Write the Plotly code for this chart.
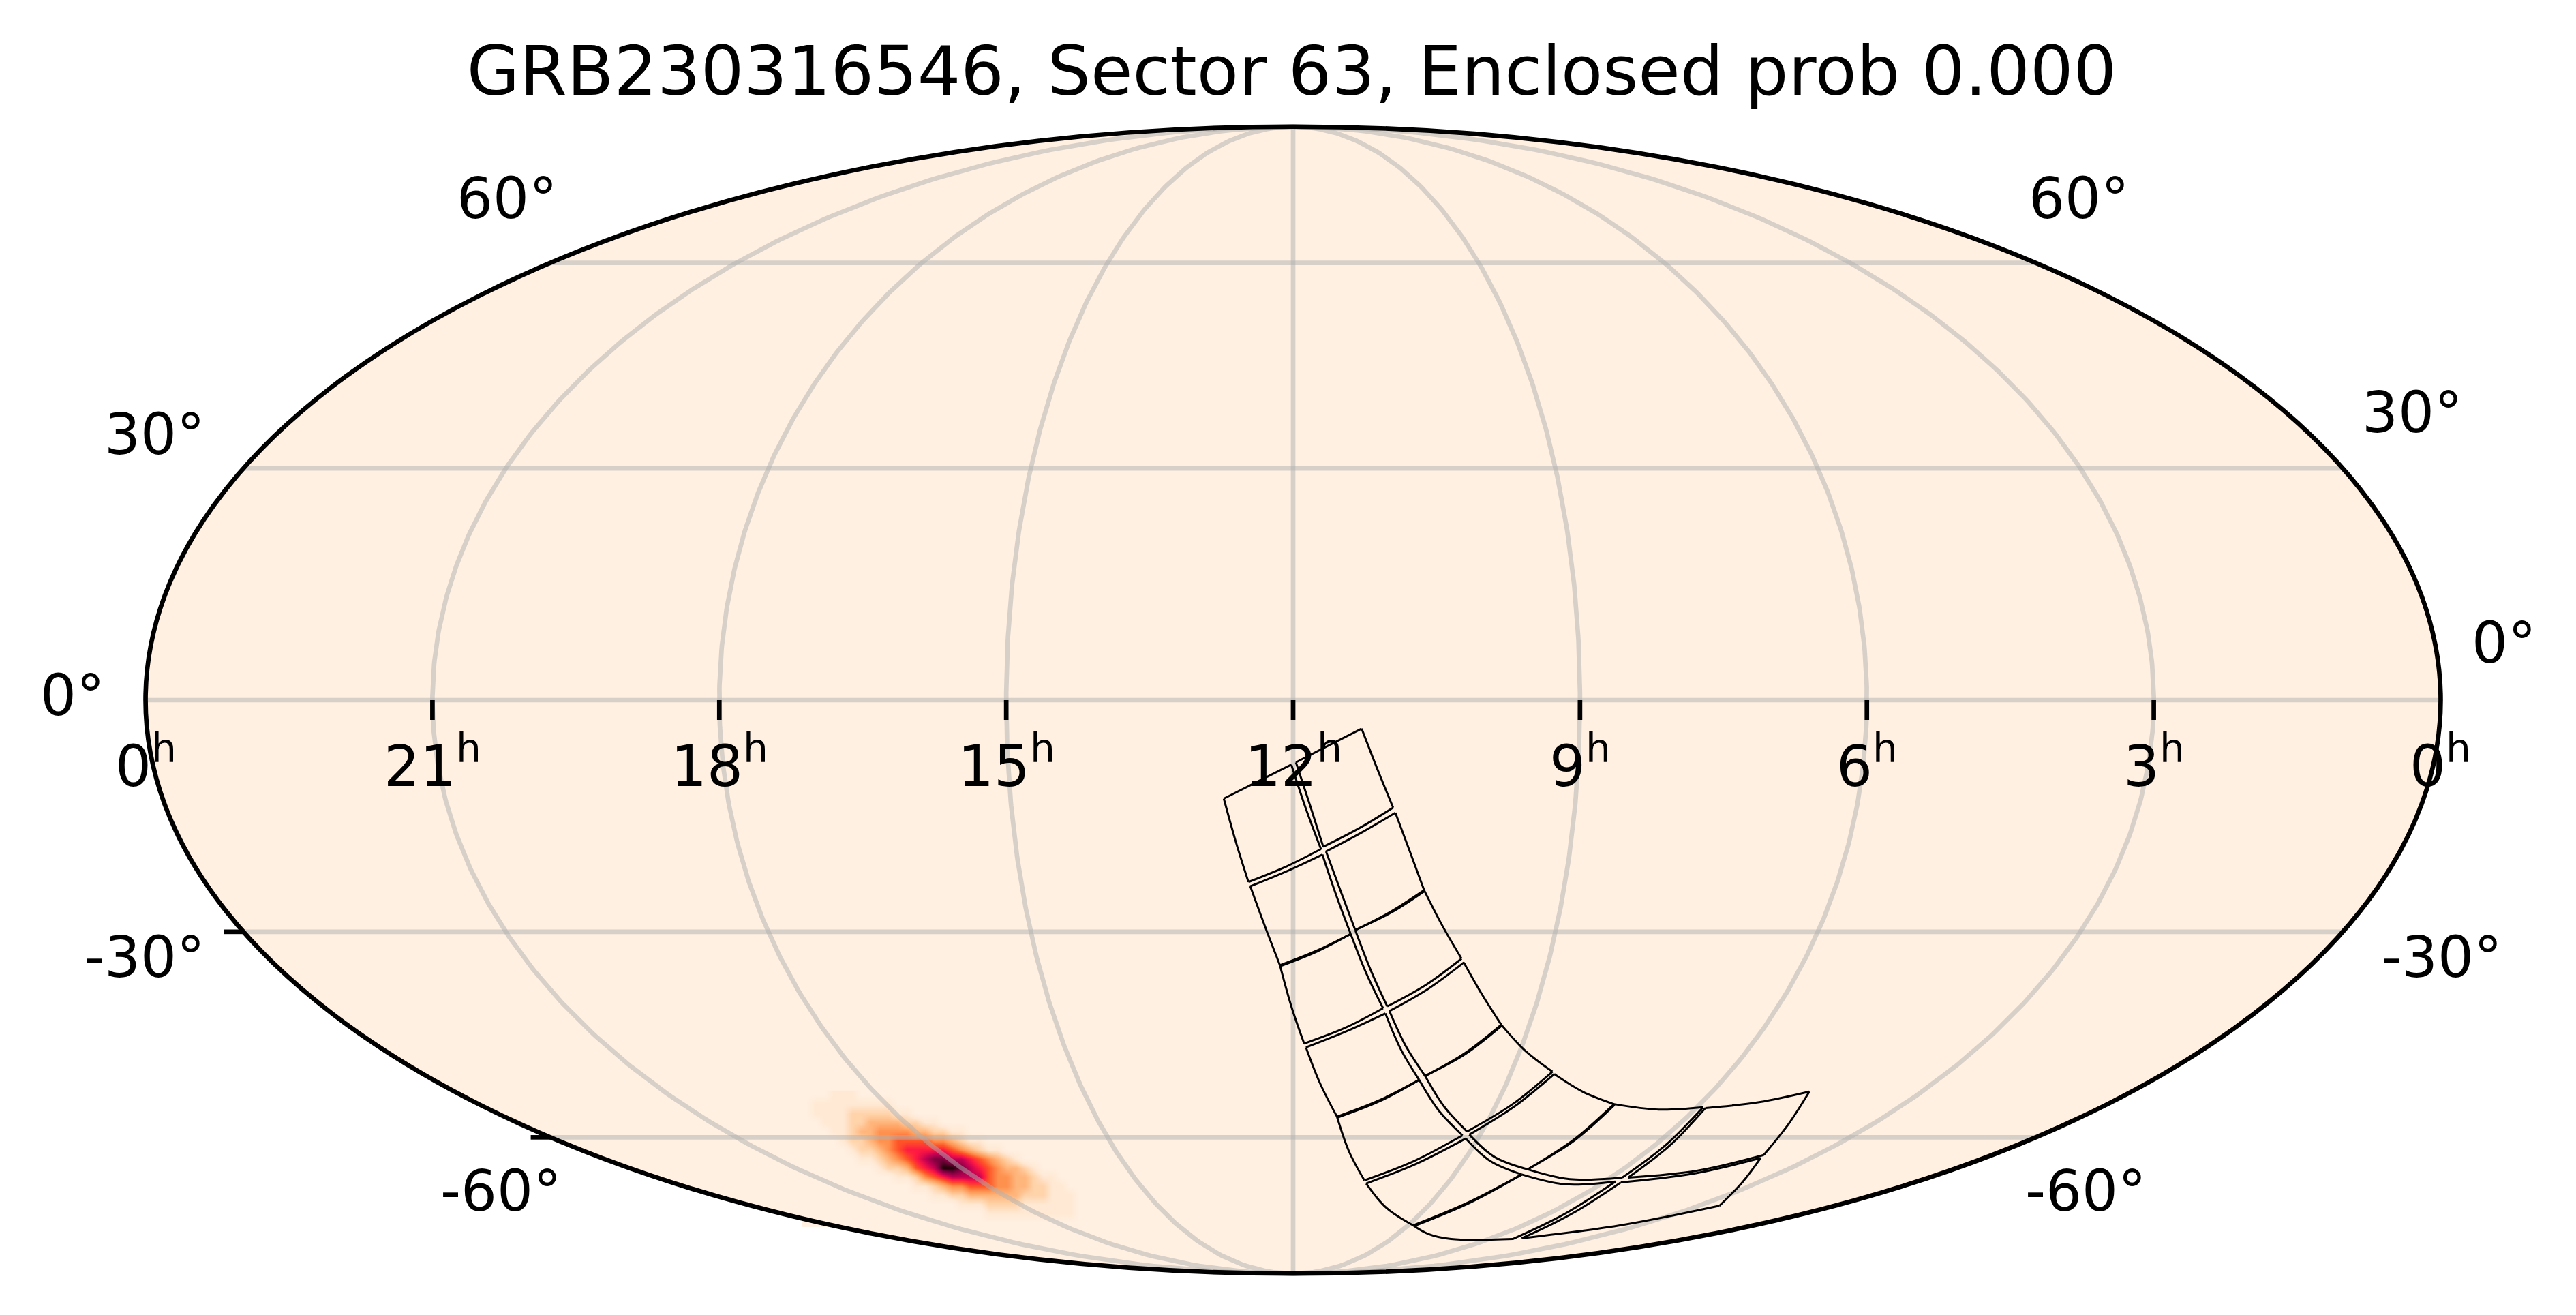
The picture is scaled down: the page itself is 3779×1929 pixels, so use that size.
import numpy as np
import plotly.graph_objects as go

# page and map geometry (pixels)
fig_w = 3779
fig_h = 1929
map_left = 213.3
map_right = 3580.3
map_top = 185.3
map_bottom = 1868.7
px_per_unit = (map_right - map_left) / 360
pad_x = 10
pad_y = 5

title_text = "GRB230316546, Sector 63, Enclosed prob 0.000"

# graticule
ra_grid_hours = [3, 6, 9, 12, 15, 18, 21]
dec_grid = [-60, -30, 0, 30, 60]
dec_ticks = [-30, -60]

ra_labels = ["0", "21", "18", "15", "12", "9", "6", "3", "0"]
ra_label_hours = [24, 21, 18, 15, 12, 9, 6, 3, 0]

# declination labels: text, pixel centre x, pixel centre y
dec_labels = ["0°", "30°", "60°", "-30°", "-60°", "0°", "30°", "60°", "-30°", "-60°"]
dec_label_px = [106, 227, 744, 212, 735, 3673, 3539, 3050, 3582, 3060]
dec_label_py = [1020, 637, 291, 1405, 1748, 943, 605, 291, 1405, 1748]

blob_x0 = -76.29
blob_dx = 1.4256
blob_y0 = -61.99
blob_dy = -1.4257
blob_rows = [
    "00011100000000000000000000000000",
    "01111111110000000000000000000000",
    "01111222221100000000000000000000",
    "00111223333221100000000000000000",
    "00011233444433221100000000000000",
    "00001223445555443211000000000000",
    "00000122345666665432110000000000",
    "00000011234567887765432100000000",
    "00000000122356799876543321000000",
    "00000000001124567777544332110000",
    "00000000000011234455544332211000",
    "00000000000000112233333322211100",
    "00000000000000000111222211111100",
    "00000000000000000000111111111100",
    "00000000000000000000000000000000",
]
blob_colors = ["#fff0e2", "#ffe9d4", "#ffd4ab", "#ffb67c", "#ff914e", "#ff5527",
               "#ff1a42", "#c40054", "#7c003e", "#1c0006"]

# footprint edges, map plane coordinates
edge_x = [
    # right outer edge
    [10.75, 13.18, 15.69], [16.04, 18.33, 20.55], [20.55, 23.35, 26.42], [26.78, 29.65, 32.65],
    [32.65, 36.38, 40.67], [40.96, 45.40, 50.33], [50.33, 57.35, 64.30], [64.65, 73.10, 80.98],
    # far end
    [80.98, 77.75, 73.82], [73.32, 70.45, 66.87],
    # left outer edge
    [-10.87, -9.01, -7.01], [-6.72, -4.43, -2.07], [-2.07, -0.28, 1.73], [2.01, 4.23, 6.88],
    [6.88, 8.74, 11.18], [11.46, 14.61, 18.84], [18.84, 21.20, 24.78, 34.44], [35.87, 51.27, 66.87],
    # near end
    [-10.87, -5.6, -0.28], [0.44, 5.6, 10.75],
    # middle, lower column
    [-0.28, 2.01, 4.37], [4.59, 6.74, 9.03], [9.03, 11.46, 14.11], [14.47, 16.90, 19.77],
    [19.77, 22.77, 26.57], [27.07, 30.86, 35.87], [35.87, 42.68, 50.55], [51.41, 62.72, 73.32],
    # middle, upper column
    [0.44, 2.73, 4.73], [5.16, 7.45, 9.74], [9.74, 12.18, 14.76], [15.11, 17.62, 20.70],
    [20.70, 23.63, 27.28], [27.64, 31.58, 36.80], [36.80, 43.39, 51.62], [52.55, 63.44, 73.82],
    # cross edges
    [-7.01, -0.99, 4.37], [-6.72, -0.64, 4.59], [4.73, 10.32, 15.69], [5.16, 10.82, 16.04],
    [-2.07, 3.66, 9.03], [9.74, 15.33, 20.55],
    [1.73, 8.17, 14.11], [2.01, 8.46, 14.47], [14.76, 20.84, 26.42], [15.11, 21.20, 26.78],
    [6.88, 13.54, 19.77], [20.70, 26.93, 32.65],
    [11.18, 19.05, 26.57], [11.46, 19.41, 27.07], [27.28, 34.44, 40.67], [27.64, 34.80, 40.96],
    [18.84, 27.64, 35.87], [36.80, 44.11, 50.33],
    [34.44, 42.68, 50.55], [35.87, 43.75, 51.41], [51.62, 58.42, 64.30], [52.55, 59.14, 64.65],
    # second line of the nearly coincident cross edges
    [-1.97, 3.74, 9.03], [9.74, 15.41, 20.65],
    [6.98, 13.62, 19.77], [20.70, 27.01, 32.75],
    [18.94, 27.72, 35.87], [36.80, 44.19, 50.43],
]
edge_y = [
    [-4.48, -10.74, -16.88], [-17.68, -23.81, -29.83], [-29.83, -35.29, -40.57], [-41.18, -46.22, -50.94],
    [-50.94, -55.00, -58.31], [-58.68, -61.44, -63.40], [-63.40, -64.26, -63.89], [-64.02, -63.10, -61.44],
    [-61.44, -66.47, -71.38], [-71.87, -75.68, -79.36],
    [-15.46, -22.16, -28.54], [-29.21, -35.47, -41.61], [-41.61, -48.06, -53.89], [-54.50, -60.15, -65.37],
    [-65.37, -70.77, -75.37], [-75.86, -79.67, -82.43], [-82.43, -83.78, -84.58, -84.58], [-84.46, -82.43, -79.36],
    [-15.46, -12.8, -10.13], [-9.76, -7.1, -4.48],
    [-10.13, -17.06, -23.38], [-24.24, -30.56, -36.70], [-36.70, -42.84, -48.36], [-49.16, -54.81, -59.60],
    [-59.60, -64.32, -68.31], [-68.80, -72.30, -74.45], [-74.45, -75.99, -75.56], [-75.68, -74.33, -71.87],
    [-9.76, -16.75, -23.02], [-23.75, -29.95, -36.09], [-36.09, -42.41, -48.06], [-48.79, -54.19, -58.98],
    [-58.98, -63.71, -67.70], [-68.19, -71.69, -73.65], [-73.65, -75.19, -74.94], [-74.94, -73.84, -71.38],
    [-28.54, -26.08, -23.38], [-29.21, -26.70, -24.24], [-23.02, -20.13, -16.88], [-23.75, -20.74, -17.68],
    [-41.61, -39.34, -36.70], [-36.09, -33.20, -29.83],
    [-53.89, -51.43, -48.36], [-54.50, -51.92, -49.16], [-48.06, -44.68, -40.57], [-48.79, -45.30, -41.18],
    [-65.37, -62.79, -59.60], [-58.98, -55.42, -50.94],
    [-75.37, -72.30, -68.31], [-75.86, -72.73, -68.80], [-67.70, -63.40, -58.31], [-68.19, -63.71, -58.68],
    [-82.43, -78.75, -74.45], [-73.65, -68.92, -63.40],
    [-84.58, -80.59, -75.56], [-84.46, -80.59, -75.68], [-74.94, -69.85, -63.89], [-74.94, -69.85, -64.02],
    [-41.74, -39.47, -36.70], [-36.09, -33.33, -29.95],
    [-65.50, -62.92, -59.60], [-58.98, -55.55, -51.06],
    [-82.56, -78.88, -74.45], [-73.65, -69.05, -63.52],
]


# Mollweide projection, plane in degrees (x -180..180, y -90..90)
def mollweide(ra_hours, dec):
    ra_hours = np.asarray(ra_hours, dtype=float)
    dec = np.radians(np.asarray(dec, dtype=float))
    theta = dec.copy()
    for _ in range(60):
        denom = 2 + 2 * np.cos(2 * theta)
        step = np.where(np.abs(denom) > 1e-9,
                        (2 * theta + np.sin(2 * theta) - np.pi * np.sin(dec)) / np.where(denom == 0, 1, denom), 0)
        theta = theta - step
    theta = np.where(np.abs(dec) >= np.pi / 2 - 1e-6, dec, theta)
    x = (12 - ra_hours) * 15 * np.cos(theta)
    y = 90 * np.sin(theta)
    return x, y


def px_to_paper(px, py):
    plot_l = map_left - pad_x * px_per_unit
    plot_r = map_right + pad_x * px_per_unit
    plot_t = map_top - pad_y * px_per_unit
    plot_b = map_bottom + pad_y * px_per_unit
    return (px - plot_l) / (plot_r - plot_l), (plot_b - py) / (plot_b - plot_t)


fig = go.Figure()

# Probability blob
levels = np.array([[int(c) for c in row] for row in blob_rows])
scale = [[i / 9, c] for i, c in enumerate(blob_colors)]
fig.add_trace(go.Heatmap(z=levels, x0=blob_x0, dx=blob_dx, y0=blob_y0, dy=blob_dy,
                         colorscale=scale, zmin=0, zmax=9, zsmooth="best",
                         showscale=False, hoverinfo="skip"))

# Graticule
grid_color = "rgba(176,176,176,0.5)"
steps = np.linspace(-90, 90, 361)
for ra in ra_grid_hours:
    gx, gy = mollweide(np.full(steps.shape, ra), steps)
    fig.add_trace(go.Scatter(x=gx, y=gy, mode="lines", line=dict(color=grid_color, width=6.67),
                             hoverinfo="skip"))
ras = np.linspace(0, 24, 97)
for dec in dec_grid:
    gx, gy = mollweide(ras, np.full(ras.shape, dec))
    fig.add_trace(go.Scatter(x=gx, y=gy, mode="lines", line=dict(color=grid_color, width=6.67),
                             hoverinfo="skip"))

# Footprint
flat_x = []
flat_y = []
for ex, ey in zip(edge_x, edge_y):
    flat_x += ex + [None]
    flat_y += ey + [None]
fig.add_trace(go.Scatter(x=flat_x, y=flat_y, mode="lines", hoverinfo="skip",
                         line=dict(color="black", width=3, shape="spline", smoothing=1.0)))

# Map background below everything, frame above
shapes = [
    dict(type="circle", xref="x", yref="y", x0=-180, x1=180, y0=-90, y1=90,
         fillcolor=blob_colors[0], line=dict(width=0), layer="below"),
    dict(type="circle", xref="x", yref="y", x0=-180, x1=180, y0=-90, y1=90,
         line=dict(color="black", width=6.67), layer="above"),
]
# Hour ticks along the equator
for ra in [21, 18, 15, 12, 9, 6, 3]:
    tx, _ = mollweide([ra], [0])
    shapes.append(dict(type="line", xref="x", yref="y", ysizemode="pixel", yanchor=0,
                       x0=float(tx[0]), x1=float(tx[0]), y0=0, y1=-29,
                       line=dict(color="black", width=6.67)))
# Declination ticks on the left side
for dec in dec_ticks:
    tx, ty = mollweide([24], [dec])
    shapes.append(dict(type="line", xref="x", yref="y", xsizemode="pixel", xanchor=float(tx[0]),
                       y0=float(ty[0]), y1=float(ty[0]), x0=0, x1=-29,
                       line=dict(color="black", width=6.67)))

annotations = []
for name, ra in zip(ra_labels, ra_label_hours):
    lx, _ = mollweide([ra], [0])
    annotations.append(dict(x=float(lx[0]), y=0, xref="x", yref="y", yshift=-91, showarrow=False,
                            text=name + "<sup>h</sup>", xanchor="center", yanchor="middle",
                            font=dict(family="DejaVu Sans", size=83.3, color="black")))
for name, px, py in zip(dec_labels, dec_label_px, dec_label_py):
    ax, ay = px_to_paper(px, py)
    annotations.append(dict(x=ax, y=ay, xref="paper", yref="paper", showarrow=False,
                            text=name, xanchor="center", yanchor="middle",
                            font=dict(family="DejaVu Sans", size=83.3, color="black")))

fig.update_layout(
    width=fig_w, height=fig_h,
    margin=dict(l=map_left - pad_x * px_per_unit, r=fig_w - map_right - pad_x * px_per_unit,
                t=map_top - pad_y * px_per_unit, b=fig_h - map_bottom - pad_y * px_per_unit,
                pad=0, autoexpand=False),
    title=dict(text=title_text, x=1895 / fig_w, y=1 - 104 / fig_h, xanchor="center", yanchor="middle",
               font=dict(family="DejaVu Sans", size=100, color="black")),
    xaxis=dict(range=[-180 - pad_x, 180 + pad_x], visible=False, fixedrange=True),
    yaxis=dict(range=[-90 - pad_y, 90 + pad_y], visible=False, fixedrange=True),
    plot_bgcolor="white", paper_bgcolor="white",
    showlegend=False, shapes=shapes, annotations=annotations,
)

fig.write_html("out.html", config=dict(displayModeBar=False),
               post_script="document.body.style.margin='0';")
